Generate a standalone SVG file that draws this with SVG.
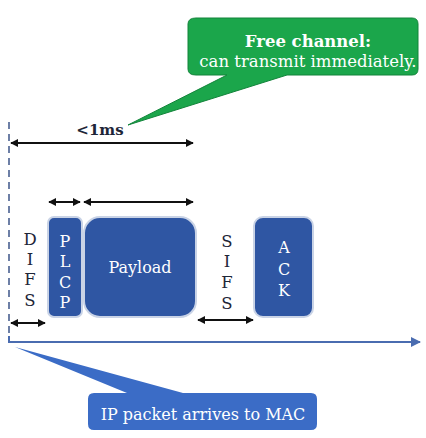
<svg xmlns="http://www.w3.org/2000/svg" width="426" height="438" viewBox="0 0 426 438">
  <defs>
    <marker id="ah" viewBox="0 0 10 10" refX="9" refY="5" markerWidth="8" markerHeight="8" markerUnits="userSpaceOnUse" orient="auto-start-reverse">
      <path d="M0,0 L10,5 L0,10 z" fill="#111"/>
    </marker>
    <marker id="axh" viewBox="0 0 10 10" refX="9" refY="5" markerWidth="10" markerHeight="10" markerUnits="userSpaceOnUse" orient="auto">
      <path d="M0,0 L10,5 L0,10 z" fill="#4a6cb0"/>
    </marker>
  </defs>
  <style>
    .frame { fill: #2f56a3; stroke: #c9d3e6; stroke-width: 2; }
    .lbl { fill: #fff; font-size: 16px; text-anchor: middle; }
    .vlbl { fill: #1e2638; font-size: 16.5px; text-anchor: middle; }
    .dim { stroke: #111; stroke-width: 2; fill: none; marker-start: url(#ah); marker-end: url(#ah); }
  </style>
  <rect width="426" height="438" fill="#fff"/>

  <g font-family="'DejaVu Serif', 'Liberation Serif', serif">
  <!-- time axis and start marker -->
  <g id="axis">
    <line x1="9" y1="122" x2="9" y2="338" stroke="#6d7fa6" stroke-width="2" stroke-dasharray="7,5"/>
    <path d="M9,336 L9,342 L420,342" fill="none" stroke="#4a6cb0" stroke-width="2" marker-end="url(#axh)"/>
  </g>

  <!-- callout: free channel -->
  <g id="callout-free">
    <path d="M196,18 H412 Q418,18 418,24 V69 Q418,75 412,75 H287 L128,125 L227,75 H196 Q188,75 188,69 V24 Q188,18 196,18 Z" fill="#1ba64b" stroke="#12843a" stroke-width="1"/>
    <text x="308" y="47" fill="#fff" font-size="16.5" font-weight="bold" text-anchor="middle">Free channel:</text>
    <text x="308" y="67" fill="#fff" font-size="16.5" text-anchor="middle">can transmit immediately.</text>
  </g>

  <!-- callout: packet arrival -->
  <g id="callout-arrival">
    <path d="M94,393 H127 L15,347 L183,393 H311 Q317,393 317,399 V424 Q317,430 311,430 H94 Q88,430 88,424 V399 Q88,393 94,393 Z" fill="#3b6cc6"/>
    <text x="203" y="420" fill="#fff" font-size="16" text-anchor="middle">IP packet arrives to MAC</text>
  </g>

  <!-- DIFS -->
  <g id="difs">
    <text class="vlbl" x="30" y="245">D</text>
    <text class="vlbl" x="30" y="265">I</text>
    <text class="vlbl" x="30" y="285">F</text>
    <text class="vlbl" x="30" y="306">S</text>
  </g>

  <!-- PLCP header -->
  <g id="plcp">
    <rect class="frame" x="48" y="217" width="34" height="100" rx="6"/>
    <text class="lbl" x="65" y="247">P</text>
    <text class="lbl" x="65" y="267">L</text>
    <text class="lbl" x="65" y="288">C</text>
    <text class="lbl" x="65" y="308">P</text>
  </g>

  <!-- Payload -->
  <g id="payload">
    <rect class="frame" x="84" y="217" width="112" height="100" rx="16"/>
    <text class="lbl" x="140" y="273" font-size="15.5">Payload</text>
  </g>

  <!-- SIFS -->
  <g id="sifs">
    <text class="vlbl" x="227" y="247">S</text>
    <text class="vlbl" x="227" y="267">I</text>
    <text class="vlbl" x="227" y="288">F</text>
    <text class="vlbl" x="227" y="309">S</text>
  </g>

  <!-- ACK -->
  <g id="ack">
    <rect class="frame" x="254" y="217" width="59" height="100" rx="9"/>
    <text class="lbl" x="284" y="253">A</text>
    <text class="lbl" x="284" y="275">C</text>
    <text class="lbl" x="284" y="296">K</text>
  </g>

  <!-- duration arrows -->
  <g id="connectors">
    <text x="100" y="135" fill="#1e2638" font-size="15" font-weight="bold" text-anchor="middle">&lt;1ms</text>
    <line class="dim" x1="11" y1="143" x2="193" y2="143"/>
    <line class="dim" x1="49" y1="202" x2="80" y2="202"/>
    <line class="dim" x1="84" y1="202" x2="193" y2="202"/>
    <line class="dim" x1="11" y1="323" x2="45" y2="323"/>
    <line class="dim" x1="198" y1="320" x2="253" y2="320"/>
  </g>
  </g>
</svg>
